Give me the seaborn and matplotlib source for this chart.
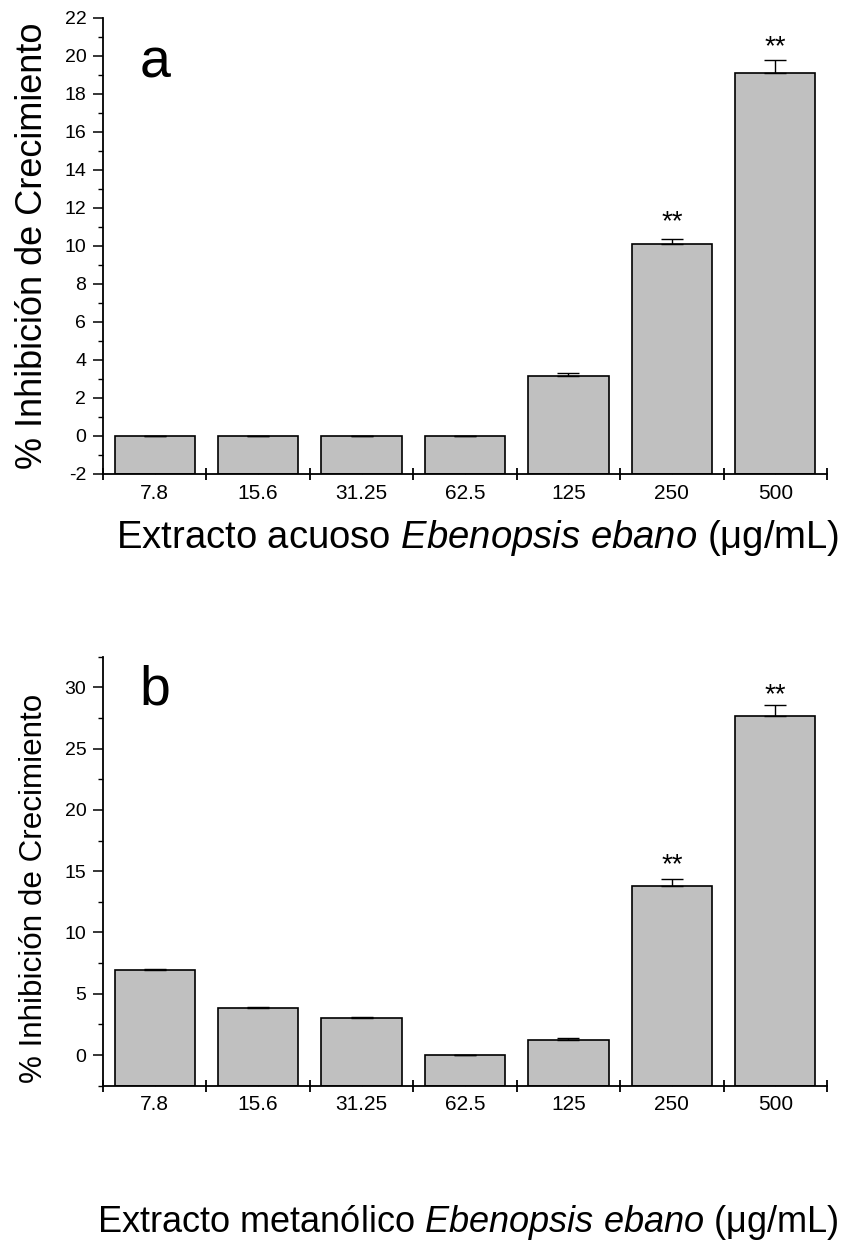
import matplotlib
matplotlib.use("Agg")
import matplotlib.pyplot as plt
import seaborn as sns
import pandas as pd
import numpy as np
from matplotlib.ticker import FixedLocator

# ---------------- data ----------------
concentrations = ["7.8", "15.6", "31.25", "62.5", "125", "250", "500"]

acuoso_values = [0.0, 0.0, 0.0, 0.0, 3.15, 10.12, 19.12]
acuoso_errors = [0.0, 0.0, 0.0, 0.0, 0.15, 0.26, 0.65]
acuoso_signif = ["", "", "", "", "", "**", "**"]
acuoso_star_y = [None, None, None, None, None, 10.88, 20.09]

metanol_values = [6.93, 3.83, 3.02, 0.0, 1.25, 13.80, 27.63]
metanol_errors = [0.10, 0.06, 0.08, 0.0, 0.15, 0.55, 0.93]
metanol_signif = ["", "", "", "", "", "**", "**"]
metanol_star_y = [None, None, None, None, None, 14.89, 28.75]

# ---------------- style ----------------
sns.set_theme(style="ticks")
plt.rcParams["font.family"] = ["Liberation Sans", "DejaVu Sans"]
plt.rcParams["mathtext.fontset"] = "custom"
plt.rcParams["mathtext.rm"] = "Liberation Sans"
plt.rcParams["mathtext.it"] = "Liberation Sans:italic"
plt.rcParams["axes.unicode_minus"] = False

W, H = 843, 1252
fig = plt.figure(figsize=(W / 100, H / 100), dpi=100)

def px_axes(left, top, right, bottom):
    return fig.add_axes([left / W, 1 - bottom / H, (right - left) / W, (bottom - top) / H])

ax_a = px_axes(103, 18, 827, 474)
ax_b = px_axes(103, 656.7, 827, 1085.7)

BAR_COLOR = "#c0c0c0"


def draw_panel(ax, values, errors, signif, star_y, ylim, major, minor, letter,
               letter_y, xlabel, xlab_fs, ylab_fs, xlab_pos, ylab_pos):
    df = pd.DataFrame({"conc": concentrations, "val": values})
    sns.barplot(data=df, x="conc", y="val", order=concentrations, color=BAR_COLOR,
                saturation=1, width=0.775, edgecolor="black", linewidth=1.2,
                errorbar=None, ax=ax)
    # bars rise from the bottom of the axis
    bottom = ylim[0]
    for patch, v in zip(ax.patches, values):
        patch.set_y(bottom)
        patch.set_height(v - bottom)
        patch.set_facecolor(BAR_COLOR)
    xs = np.arange(len(values))
    ax.errorbar(xs, values, yerr=[np.zeros(len(errors)), errors], fmt="none",
                ecolor="black", elinewidth=1.0, capsize=8, capthick=1.0, zorder=3)
    for x, s, sy in zip(xs, signif, star_y):
        if s:
            ax.text(x, sy, s, ha="center", va="baseline", fontsize=20, color="black")

    ax.set_xlim(-0.5, len(values) - 0.5)
    ax.set_ylim(*ylim)
    ax.yaxis.set_major_locator(FixedLocator(major))
    ax.yaxis.set_minor_locator(FixedLocator(minor))
    ax.xaxis.set_major_locator(FixedLocator(xs))
    ax.set_xticklabels(concentrations)
    ax.xaxis.set_minor_locator(FixedLocator(np.arange(-0.5, len(values), 1.0)))

    sns.despine(ax=ax, top=True, right=True)
    for sp in ("left", "bottom"):
        ax.spines[sp].set_linewidth(1.3)
        ax.spines[sp].set_color("black")

    ax.tick_params(axis="y", which="major", direction="out", length=7, width=1.1,
                   labelsize=14, pad=5, colors="black")
    ax.tick_params(axis="y", which="minor", direction="out", length=3.5, width=1.0,
                   colors="black")
    ax.tick_params(axis="x", which="major", direction="in", length=2.5, width=0.6,
                   color="#888888", labelsize=15, pad=7, labelcolor="black")
    ax.tick_params(axis="x", which="minor", direction="inout", length=8, width=1.3,
                   color="black")

    ax.set_xlabel(xlabel, fontsize=xlab_fs, color="black")
    ax.set_ylabel("% Inhibición de Crecimiento", fontsize=ylab_fs, color="black")
    ax.xaxis.label.set_va("baseline")
    ax.yaxis.label.set_va("baseline")
    ax.xaxis.set_label_coords(*xlab_pos)
    ax.yaxis.set_label_coords(*ylab_pos)

    ax.text(0, letter_y, letter, ha="center", va="baseline", fontsize=40, color="black")


draw_panel(ax_a, acuoso_values, acuoso_errors, acuoso_signif, acuoso_star_y,
           ylim=(-2, 22), major=np.arange(-2, 23, 2), minor=np.arange(-1, 22, 2),
           letter="a", letter_y=18.85,
           xlabel=r"Extracto acuoso $\mathit{Ebenopsis\ ebano}$ (μg/mL)",
           xlab_fs=27.5, ylab_fs=26, xlab_pos=(0.518, -0.1623), ylab_pos=(-0.0843, 0.5))

draw_panel(ax_b, metanol_values, metanol_errors, metanol_signif, metanol_star_y,
           ylim=(-2.5, 32.5), major=np.arange(0, 31, 5), minor=np.arange(-2.5, 33, 2.5),
           letter="b", letter_y=28.6,
           xlabel=r"Extracto metanólico $\mathit{Ebenopsis\ ebano}$ (μg/mL)",
           xlab_fs=26, ylab_fs=22.6, xlab_pos=(0.504, -0.341), ylab_pos=(-0.0843, 0.461))

fig.savefig("out.png", dpi=100, facecolor="white")
